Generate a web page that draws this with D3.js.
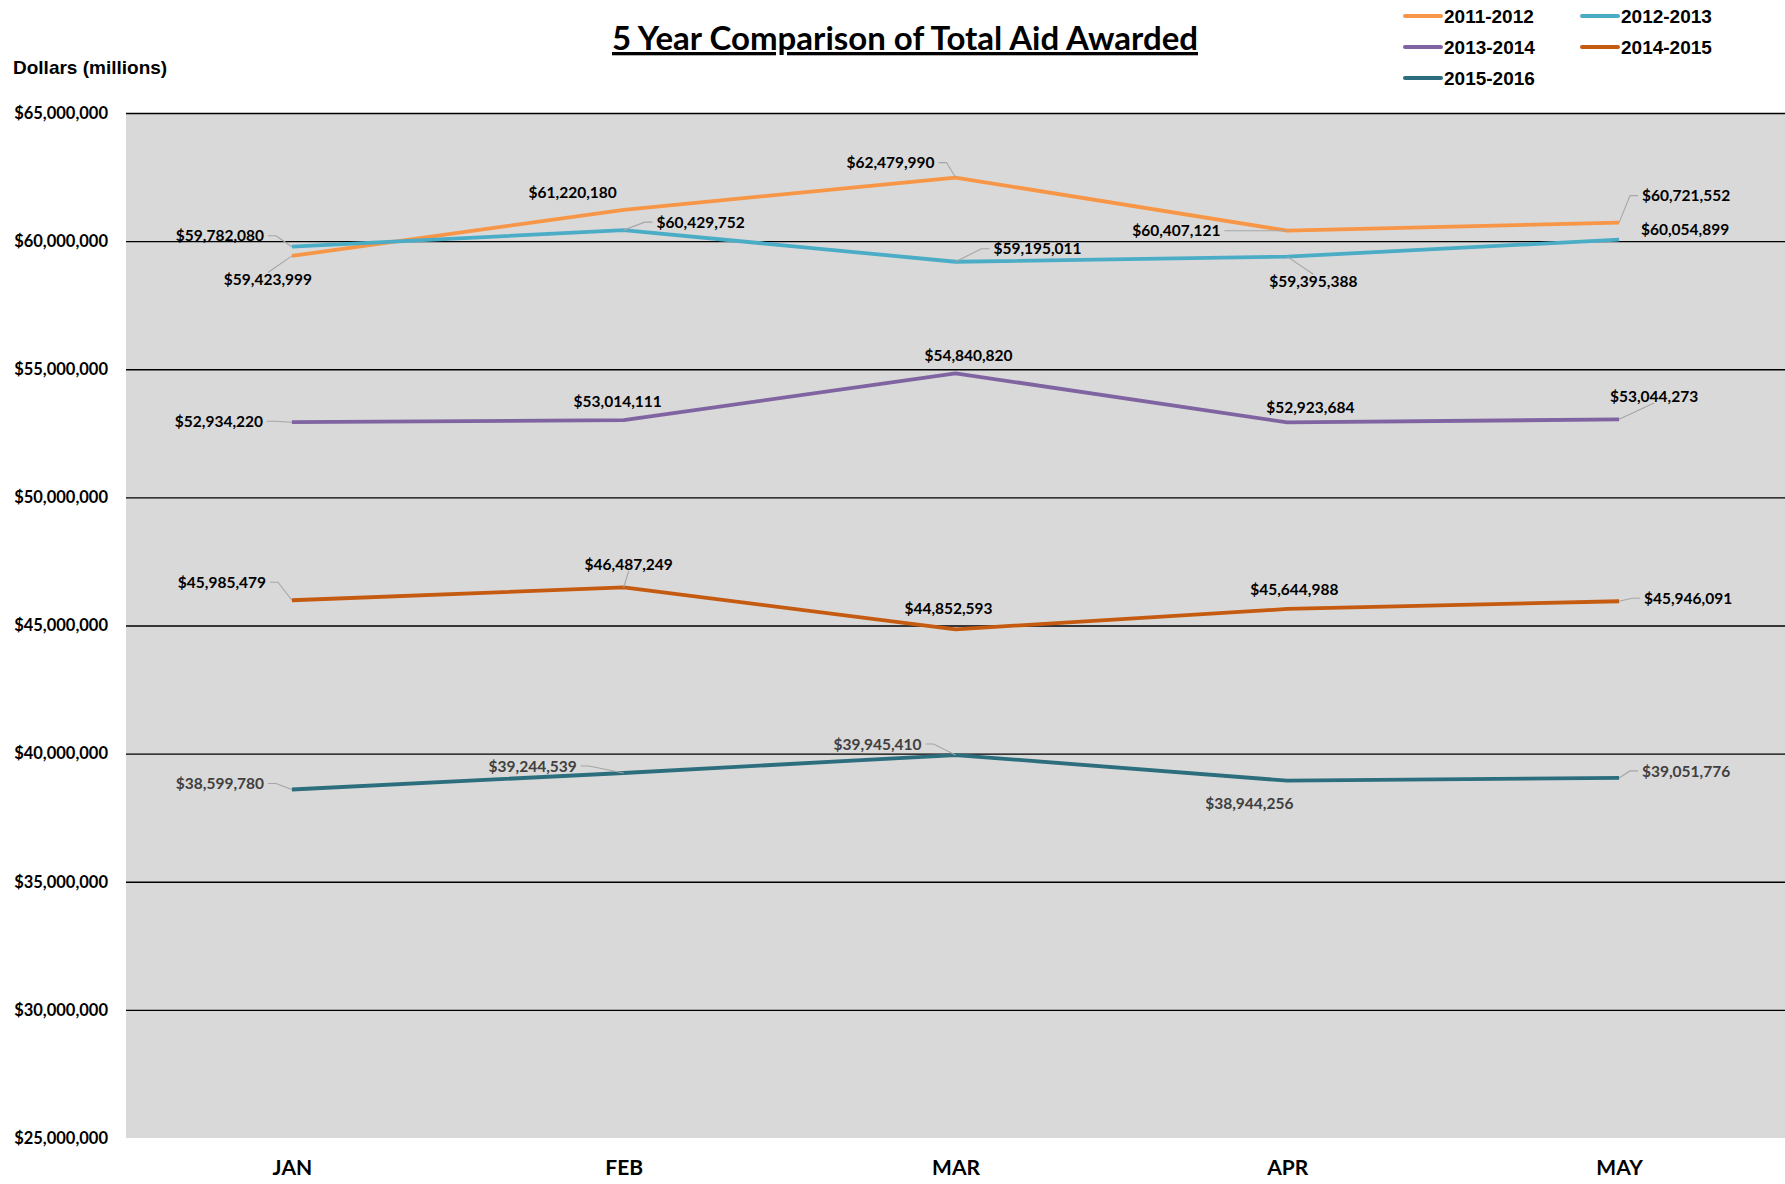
<!DOCTYPE html>
<html>
<head>
<meta charset="utf-8">
<script src="https://cdn.jsdelivr.net/npm/d3@7"></script>
<style>
  html, body { margin: 0; padding: 0; background: #ffffff; }
  svg { display: block; }
</style>
</head>
<body>
<svg id="chart" width="1785" height="1184"></svg>
<script>
// ---- data ----
const months = ["JAN", "FEB", "MAR", "APR", "MAY"];
const seriesNames = ["2011-2012", "2012-2013", "2013-2014", "2014-2015", "2015-2016"];
const aid2011 = [59423999, 61220180, 62479990, 60407121, 60721552];
const aid2012 = [59782080, 60429752, 59195011, 59395388, 60054899];
const aid2013 = [52934220, 53014111, 54840820, 52923684, 53044273];
const aid2014 = [45985479, 46487249, 44852593, 45644988, 45946091];
const aid2015 = [38599780, 39244539, 39945410, 38944256, 39051776];
const yTickValues = [25000000, 30000000, 35000000, 40000000, 45000000, 50000000, 55000000, 60000000, 65000000];

// ---- styling ----
const colors = ["#F79646", "#4BACC6", "#8064A2", "#C55A11", "#2C6E7D"];
const labelColors = ["#000000", "#000000", "#000000", "#000000", "#404040"];
const HUMANIST = "Lato, 'Open Sans', sans-serif";
const SANS = "'Liberation Sans', Arial, sans-serif";

// data-label placement (pixel offset from the point) and whether a leader line is drawn
const labelOffsets = [
  [[-24, 24], [-51, -17], [-65, -15], [-111, 0], [67, -27]],
  [[-72, -11], [77, -8], [82, -13], [26, 25], [66, -10]],
  [[-73, -1], [-6, -19], [13, -18], [23, -15], [35, -23]],
  [[-70, -18], [5, -23], [-7, -21], [7, -20], [69, -3]],
  [[-72, -6], [-91, -7], [-78, -11], [-38, 23], [67, -7]]
];
const leaders = [
  [1, 0, 1, 1, 1],
  [1, 1, 1, 1, 0],
  [1, 0, 0, 0, 1],
  [1, 1, 0, 0, 1],
  [1, 1, 1, 0, 1]
];

const allSeries = [aid2011, aid2012, aid2013, aid2014, aid2015];

// ---- layout ----
const plot = { left: 126, right: 1785, top: 113, bottom: 1138 };

const svg = d3.select("#chart");

const x = d3.scalePoint().domain(months).range([plot.left, plot.right]).padding(0.5);
const y = d3.scaleLinear().domain([25000000, 65000000]).range([plot.bottom, plot.top]);

// plot background
svg.append("rect")
  .attr("x", plot.left).attr("y", plot.top)
  .attr("width", plot.right - plot.left).attr("height", plot.bottom - plot.top)
  .attr("fill", "#D9D9D9");

// horizontal gridlines
const grid = svg.append("g")
  .attr("transform", `translate(${plot.left},0)`)
  .call(d3.axisLeft(y)
    .tickValues(yTickValues.filter(v => v > 25000000))
    .tickSize(-(plot.right - plot.left))
    .tickFormat(""));
grid.select(".domain").remove();
grid.selectAll(".tick line").attr("stroke", "#000").attr("stroke-width", 1.4);

// y axis labels
const fmt = d3.format("$,.0f");
const yAxis = svg.append("g")
  .attr("transform", `translate(${plot.left},0)`)
  .call(d3.axisLeft(y).tickValues(yTickValues).tickSize(0).tickPadding(18).tickFormat(fmt));
yAxis.select(".domain").remove();
yAxis.selectAll("text")
  .attr("font-family", HUMANIST).attr("font-weight", "bold")
  .attr("font-size", 16.5).attr("fill", "#000");

// x axis labels
const xAxis = svg.append("g")
  .attr("transform", `translate(0,${plot.bottom})`)
  .call(d3.axisBottom(x).tickSize(0).tickPadding(22));
xAxis.select(".domain").remove();
xAxis.selectAll("text")
  .attr("font-family", HUMANIST).attr("font-weight", "bold")
  .attr("font-size", 21).attr("fill", "#000");

// lines
const line = d3.line().x((d, i) => x(months[i])).y(d => y(d));
const linesG = svg.append("g");
allSeries.forEach((vals, si) => {
  linesG.append("path")
    .datum(vals)
    .attr("d", line)
    .attr("fill", "none")
    .attr("stroke", colors[si])
    .attr("stroke-width", 3.8)
    .attr("stroke-linejoin", "round");
});

// data labels with leader lines
const leaderG = svg.append("g");
const labelG = svg.append("g");
allSeries.forEach((vals, si) => {
  vals.forEach((v, i) => {
    const px = x(months[i]), py = y(v);
    const [dx, dy] = labelOffsets[si][i];
    const t = labelG.append("text")
      .attr("x", px + dx).attr("y", py + dy)
      .attr("dy", "0.36em")
      .attr("text-anchor", "middle")
      .attr("font-family", HUMANIST).attr("font-weight", "bold")
      .attr("font-size", 15.5)
      .attr("fill", labelColors[si])
      .text(fmt(v));
    if (!leaders[si][i]) return;
    const bb = t.node().getBBox();
    const x0 = bb.x, x1 = bb.x + bb.width;
    const cy = py + dy;
    let pts;
    if (px > x1 + 2) {
      pts = [[x1 + 4, cy], [x1 + 12, cy], [px, py]];
    } else if (px < x0 - 2) {
      pts = [[x0 - 4, cy], [x0 - 12, cy], [px, py]];
    } else if (py > cy) {
      pts = [[px + dx, bb.y + bb.height - 2], [px, py]];
    } else {
      pts = [[px + dx, bb.y + 2], [px, py]];
    }
    leaderG.append("path")
      .attr("d", d3.line()(pts))
      .attr("fill", "none")
      .attr("stroke", "#A6A6A6")
      .attr("stroke-width", 1.1);
  });
});

// title
svg.append("text")
  .attr("x", 905).attr("y", 50)
  .attr("text-anchor", "middle")
  .attr("font-family", HUMANIST).attr("font-weight", "bold")
  .attr("font-size", 33)
  .attr("text-decoration", "underline")
  .attr("fill", "#000")
  .text("5 Year Comparison of Total Aid Awarded");

// axis caption
svg.append("text")
  .attr("x", 13).attr("y", 74)
  .attr("font-family", SANS).attr("font-weight", "bold")
  .attr("font-size", 19)
  .attr("fill", "#000")
  .text("Dollars (millions)");

// legend
const legendPos = [[1405, 16], [1582, 16], [1405, 47], [1582, 47], [1405, 78]];
const legend = svg.append("g");
seriesNames.forEach((name, si) => {
  const [lx, ly] = legendPos[si];
  legend.append("line")
    .attr("x1", lx).attr("x2", lx + 36)
    .attr("y1", ly).attr("y2", ly)
    .attr("stroke", colors[si]).attr("stroke-width", 4)
    .attr("stroke-linecap", "round");
  legend.append("text")
    .attr("x", lx + 39).attr("y", ly)
    .attr("dy", "0.36em")
    .attr("font-family", SANS).attr("font-weight", "bold")
    .attr("font-size", 19)
    .attr("fill", "#000")
    .text(name);
});
</script>
</body>
</html>
